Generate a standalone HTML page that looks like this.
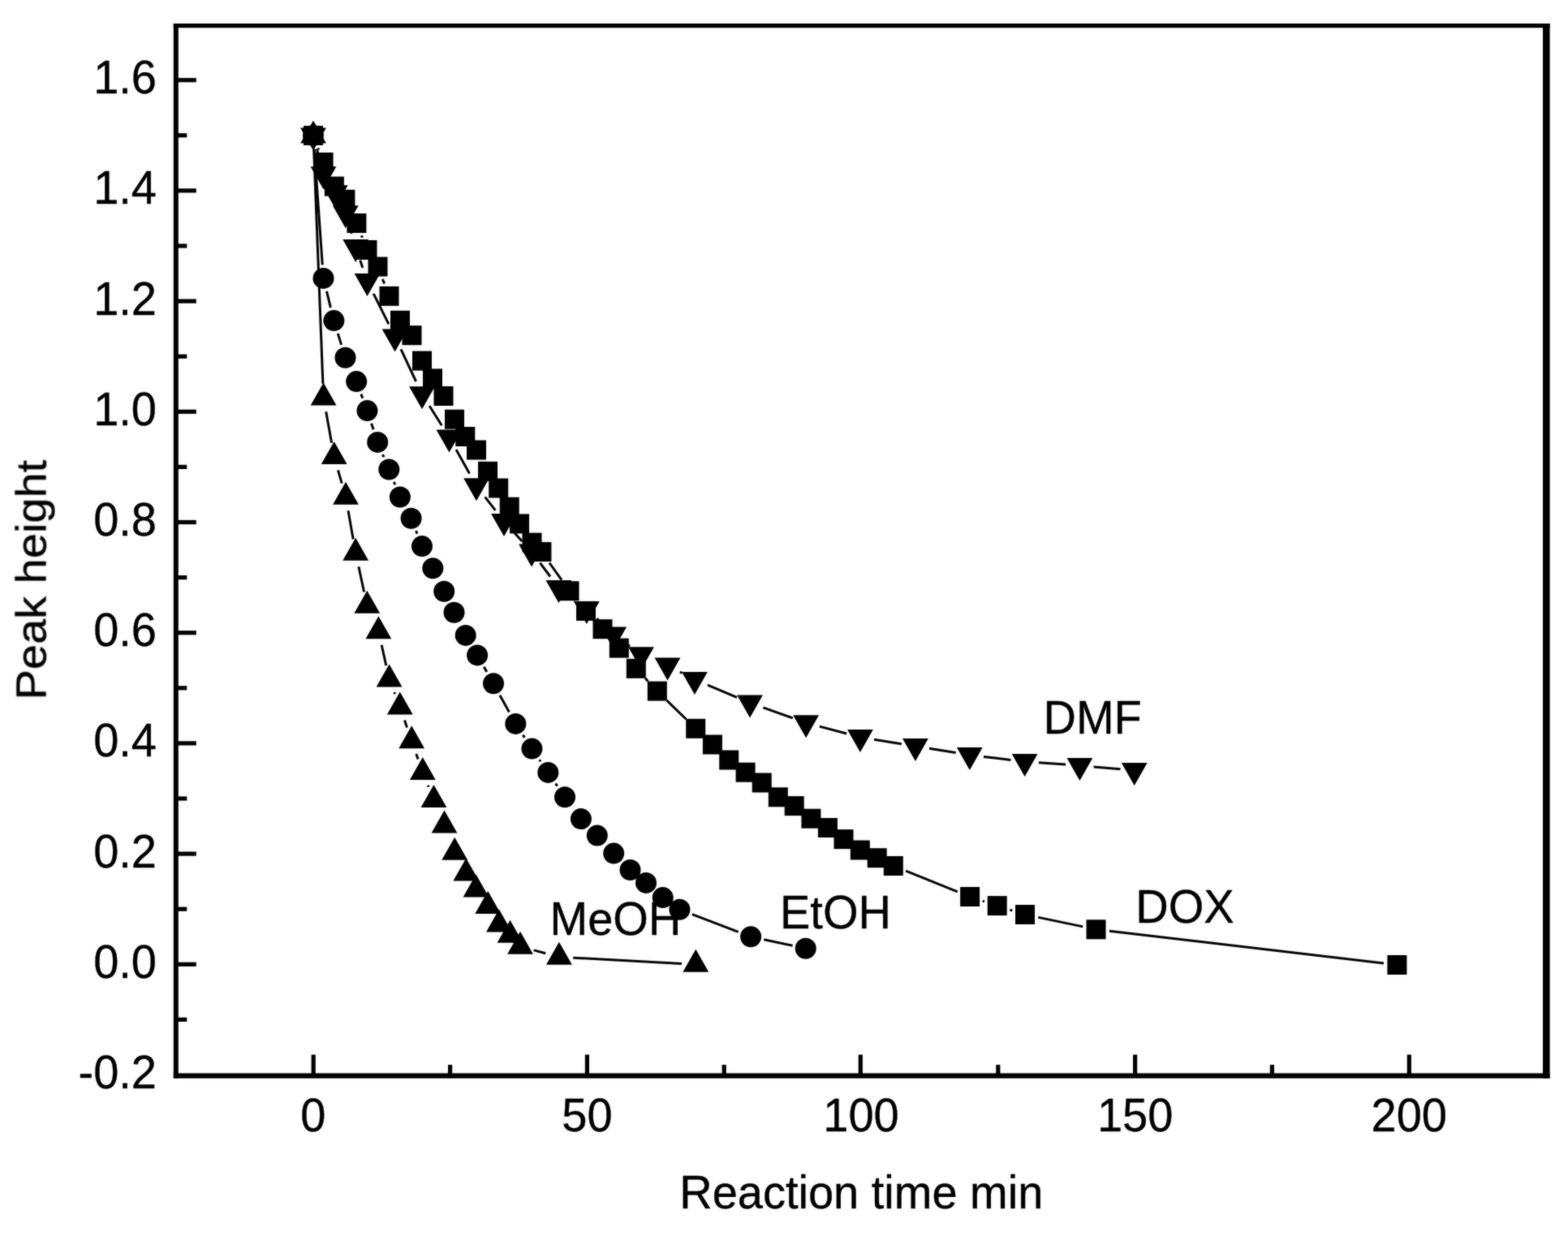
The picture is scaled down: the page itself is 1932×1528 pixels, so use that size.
<!DOCTYPE html>
<html lang="en"><head><meta charset="utf-8"><title>Peak height vs reaction time</title>
<style>html,body{margin:0;padding:0;background:#fff}body{width:1932px;height:1528px;overflow:hidden}svg{display:block}text{font-family:"Liberation Sans",Arial,Helvetica,sans-serif;fill:#000}</style>
</head><body>
<svg width="1932" height="1528" viewBox="0 0 1932 1528">
<rect width="1932" height="1528" fill="#fff"/>
<defs><filter id="soft" x="0" y="0" width="1932" height="1528" filterUnits="userSpaceOnUse"><feGaussianBlur stdDeviation="1" result="b"/><feComposite in="SourceGraphic" in2="b" operator="arithmetic" k1="0" k2="0.55" k3="0.45" k4="0"/></filter></defs>
<g filter="url(#soft)">
<g id="axes" stroke="#000" fill="none" stroke-linecap="butt">
<line x1="216.8" y1="29.0" x2="216.8" y2="1328.8" stroke-width="6.0"/>
<line x1="1905.3" y1="29.0" x2="1905.3" y2="1328.8" stroke-width="8.6"/>
<line x1="213.8" y1="31.7" x2="1909.6" y2="31.7" stroke-width="5.2"/>
<line x1="213.8" y1="1325.6" x2="1909.6" y2="1325.6" stroke-width="6.2"/>
<line x1="216.8" y1="1256.4" x2="230.3" y2="1256.4" stroke-width="5.2"/>
<line x1="216.8" y1="1188.3" x2="241.8" y2="1188.3" stroke-width="5.2"/>
<line x1="216.8" y1="1120.2" x2="230.3" y2="1120.2" stroke-width="5.2"/>
<line x1="216.8" y1="1052.1" x2="241.8" y2="1052.1" stroke-width="5.2"/>
<line x1="216.8" y1="984.0" x2="230.3" y2="984.0" stroke-width="5.2"/>
<line x1="216.8" y1="915.9" x2="241.8" y2="915.9" stroke-width="5.2"/>
<line x1="216.8" y1="847.8" x2="230.3" y2="847.8" stroke-width="5.2"/>
<line x1="216.8" y1="779.7" x2="241.8" y2="779.7" stroke-width="5.2"/>
<line x1="216.8" y1="711.6" x2="230.3" y2="711.6" stroke-width="5.2"/>
<line x1="216.8" y1="643.5" x2="241.8" y2="643.5" stroke-width="5.2"/>
<line x1="216.8" y1="575.4" x2="230.3" y2="575.4" stroke-width="5.2"/>
<line x1="216.8" y1="507.3" x2="241.8" y2="507.3" stroke-width="5.2"/>
<line x1="216.8" y1="439.2" x2="230.3" y2="439.2" stroke-width="5.2"/>
<line x1="216.8" y1="371.1" x2="241.8" y2="371.1" stroke-width="5.2"/>
<line x1="216.8" y1="303.0" x2="230.3" y2="303.0" stroke-width="5.2"/>
<line x1="216.8" y1="234.9" x2="241.8" y2="234.9" stroke-width="5.2"/>
<line x1="216.8" y1="166.8" x2="230.3" y2="166.8" stroke-width="5.2"/>
<line x1="216.8" y1="98.7" x2="241.8" y2="98.7" stroke-width="5.2"/>
<line x1="386.2" y1="1325.6" x2="386.2" y2="1299.6" stroke-width="5.2"/>
<line x1="554.6" y1="1325.6" x2="554.6" y2="1312.1" stroke-width="5.2"/>
<line x1="723.4" y1="1325.6" x2="723.4" y2="1299.6" stroke-width="5.2"/>
<line x1="892.2" y1="1325.6" x2="892.2" y2="1312.1" stroke-width="5.2"/>
<line x1="1060.3" y1="1325.6" x2="1060.3" y2="1299.6" stroke-width="5.2"/>
<line x1="1229.8" y1="1325.6" x2="1229.8" y2="1312.1" stroke-width="5.2"/>
<line x1="1398.6" y1="1325.6" x2="1398.6" y2="1299.6" stroke-width="5.2"/>
<line x1="1567.4" y1="1325.6" x2="1567.4" y2="1312.1" stroke-width="5.2"/>
<line x1="1736.3" y1="1325.6" x2="1736.3" y2="1299.6" stroke-width="5.2"/>
</g>
<g id="labels" font-size="56px" stroke="#000" stroke-width="0.4" stroke-linejoin="round">
<text transform="translate(193 1341.0) scale(1 1.035)" text-anchor="end">-0.2</text>
<text transform="translate(193 1204.8) scale(1 1.035)" text-anchor="end">0.0</text>
<text transform="translate(193 1068.6) scale(1 1.035)" text-anchor="end">0.2</text>
<text transform="translate(193 932.4) scale(1 1.035)" text-anchor="end">0.4</text>
<text transform="translate(193 796.2) scale(1 1.035)" text-anchor="end">0.6</text>
<text transform="translate(193 660.0) scale(1 1.035)" text-anchor="end">0.8</text>
<text transform="translate(193 523.8) scale(1 1.035)" text-anchor="end">1.0</text>
<text transform="translate(193 387.6) scale(1 1.035)" text-anchor="end">1.2</text>
<text transform="translate(193 251.4) scale(1 1.035)" text-anchor="end">1.4</text>
<text transform="translate(193 115.2) scale(1 1.035)" text-anchor="end">1.6</text>
<text transform="translate(385.8 1394) scale(1 1.035)" text-anchor="middle">0</text>
<text transform="translate(723.4 1394) scale(1 1.035)" text-anchor="middle">50</text>
<text transform="translate(1061.0 1394) scale(1 1.035)" text-anchor="middle">100</text>
<text transform="translate(1398.6 1394) scale(1 1.035)" text-anchor="middle">150</text>
<text transform="translate(1736.2 1394) scale(1 1.035)" text-anchor="middle">200</text>
<text transform="translate(1061.3 1489) scale(1 1.035)" text-anchor="middle">Reaction time min</text>
<text transform="translate(56.8 714.6) rotate(-90) scale(1 0.93)" text-anchor="middle">Peak height</text>
<text transform="translate(1285.5 903.5) scale(1 1.035)">DMF</text>
<text transform="translate(1399.3 1136.5) scale(1 1.035)">DOX</text>
<text transform="translate(961 1143.5) scale(1 1.035)">EtOH</text>
<text transform="translate(677.6 1152) scale(1 1.035)">MeOH</text>
</g>
<g id="lines" stroke="#000" stroke-width="3.0" fill="none" stroke-linecap="butt">
<path d="M391.9 182.4L392.7 184.6M445.5 290.3L446.4 292.7M471.4 344L473.6 349.5M676.9 693.5L692 714.7M795.1 835.9L798.5 839.5M821.6 863.1L845.4 886.3M1116.1 1073.2L1179.8 1098.8M1210.8 1110.2L1213 1110.9M1244.4 1121.1L1247.3 1122M1279.2 1130.4L1334.3 1141.9M1366.9 1147.2L1705 1187.1"/>
<path d="M390.4 183.7L394.1 198M430.7 279.3L433.3 287.7M443.8 320.7L446.9 329.9M460.2 361.8L478.9 399.3M494 430.4L512.6 470M529.2 500.3L544.3 524.3M562 554.1L578.5 583.5M597.6 612.3L610.4 628.8M632.7 655.3L643.3 667M665.4 693.6L678 710.5M702.2 734.7L709 739.9M735.4 762.2L743.6 769.9M770.1 792L776.1 796.4M837.8 828L840.6 829.4M871.9 844.2L908 859.3M940.3 871.8L976.8 884.8M1009.8 895.1L1043.2 904M1077 911.3L1110.8 916.7M1145 922.3L1177.7 927.5M1212 932.4L1245.4 936.4M1279.9 939.7L1313.1 942.1M1347.6 944.9L1380.5 947.8"/>
<path d="M387.2 183.5L397.3 326.4M402.5 358.9L407.4 379.1M416.3 410.9L420.6 424.9M444.9 485.6L446.8 490.6M457.6 521.8L460.1 529.2M471.6 560.1L472.9 563.3M485.4 593.8L486.8 597.2M512.6 654.1L514 657.7M596.3 821.7L599.8 827.9M615.9 856.7L627.4 877.4M644.3 905.7L646.4 908.8M664.7 936.2L666 938.3M684.6 965.5L686.7 968.6M852.8 1126.6L909.7 1148.4M941.2 1157.7L976.6 1165.3"/>
<path d="M386.7 184.3L397.9 472.9M401.7 507.2L408.6 545.7M416.5 579.3L421.2 595.7M429 629.3L435.2 664.4M441.9 698.3L448.6 729.5M470.2 794.8L475.8 820.1M485.8 853.1L486.6 855.1M498.5 887.5L501.5 896.5M512.9 929.1L515.1 935.4M527.3 967.7L528 969.7M657.7 1170.9L672.2 1174.8M706.2 1180.2L840 1187.5"/>
</g>
<g id="DOX" fill="#000">
<rect x="374" y="155" width="24" height="24"/><rect x="386.6" y="188" width="24" height="24"/><rect x="399.9" y="217.6" width="24" height="24"/><rect x="413.4" y="233.8" width="24" height="24"/><rect x="427.4" y="263" width="24" height="24"/><rect x="440.5" y="296" width="24" height="24"/><rect x="453.5" y="316.6" width="24" height="24"/><rect x="467.5" y="352.9" width="24" height="24"/><rect x="481" y="382.8" width="24" height="24"/><rect x="495.5" y="401.2" width="24" height="24"/><rect x="508" y="432.6" width="24" height="24"/><rect x="521" y="454.4" width="24" height="24"/><rect x="534.5" y="476" width="24" height="24"/><rect x="548" y="504.7" width="24" height="24"/><rect x="561.3" y="526" width="24" height="24"/><rect x="575" y="542.5" width="24" height="24"/><rect x="589" y="568.8" width="24" height="24"/><rect x="602.2" y="589.5" width="24" height="24"/><rect x="615.7" y="612.7" width="24" height="24"/><rect x="628" y="633.4" width="24" height="24"/><rect x="643.5" y="656.6" width="24" height="24"/><rect x="655.4" y="668" width="24" height="24"/><rect x="689.5" y="716.2" width="24" height="24"/><rect x="710" y="740.9" width="24" height="24"/><rect x="730.5" y="763.2" width="24" height="24"/><rect x="750.8" y="786.6" width="24" height="24"/><rect x="771.8" y="811.8" width="24" height="24"/><rect x="797.8" y="839.6" width="24" height="24"/><rect x="845.2" y="885.8" width="24" height="24"/><rect x="865.9" y="905.5" width="24" height="24"/><rect x="886.2" y="924.5" width="24" height="24"/><rect x="906.6" y="939.7" width="24" height="24"/><rect x="926.7" y="952.5" width="24" height="24"/><rect x="946.8" y="970.3" width="24" height="24"/><rect x="966.7" y="981.1" width="24" height="24"/><rect x="987.4" y="996.7" width="24" height="24"/><rect x="1007.9" y="1008" width="24" height="24"/><rect x="1027.5" y="1022.1" width="24" height="24"/><rect x="1047.8" y="1035.5" width="24" height="24"/><rect x="1068.7" y="1045.2" width="24" height="24"/><rect x="1088.8" y="1055" width="24" height="24"/><rect x="1183.1" y="1093" width="24" height="24"/><rect x="1216.7" y="1104.1" width="24" height="24"/><rect x="1251" y="1115" width="24" height="24"/><rect x="1338.5" y="1133.3" width="24" height="24"/><rect x="1709.4" y="1177" width="24" height="24"/>
</g>
<g id="DMF" fill="#000">
<path d="M370.1 157.6H401.9L386 185.6ZM382.6 205.3H414.4L398.5 233.3ZM396.8 228.3H428.6L412.7 256.3ZM409.9 253.3H441.7L425.8 281.3ZM422.3 294.9H454.1L438.2 322.9ZM436.6 336.9H468.4L452.5 364.9ZM470.7 405.4H502.5L486.6 433.4ZM504.1 476.2H535.9L520 504.2ZM537.6 529.6H569.4L553.5 557.6ZM571.1 589.2H602.9L587 617.2ZM605.1 633.1H636.9L621 661.1ZM639.1 670.4H670.9L655 698.4ZM672.5 714.9H704.3L688.4 742.9ZM706.9 740.9H738.7L722.8 768.9ZM740.3 772.4H772.1L756.2 800.4ZM774.1 797.2H805.9L790 825.2ZM806.6 810.5H838.4L822.5 838.5ZM840 828.1H871.8L855.9 856.1ZM908.1 856.6H939.9L924 884.6ZM977.2 881.2H1009L993.1 909.2ZM1044 899.1H1075.8L1059.9 927.1ZM1112 910.1H1143.8L1127.9 938.1ZM1178.9 920.9H1210.7L1194.8 948.9ZM1246.7 929.1H1278.5L1262.6 957.1ZM1314.5 933.9H1346.3L1330.4 961.9ZM1381.8 940H1413.6L1397.7 968Z"/>
</g>
<g id="EtOH" fill="#000">
<circle cx="386" cy="167" r="13.0"/><circle cx="398.5" cy="342.9" r="13.0"/><circle cx="411.4" cy="395.1" r="13.0"/><circle cx="425.5" cy="440.7" r="13.0"/><circle cx="439.2" cy="470.1" r="13.0"/><circle cx="452.5" cy="506.1" r="13.0"/><circle cx="465.2" cy="544.9" r="13.0"/><circle cx="479.3" cy="578.5" r="13.0"/><circle cx="492.9" cy="612.5" r="13.0"/><circle cx="506.6" cy="638.7" r="13.0"/><circle cx="520" cy="673.1" r="13.0"/><circle cx="533.3" cy="700.3" r="13.0"/><circle cx="547.2" cy="728.8" r="13.0"/><circle cx="559.5" cy="754.7" r="13.0"/><circle cx="573.7" cy="782.9" r="13.0"/><circle cx="588.1" cy="807.4" r="13.0"/><circle cx="608" cy="842.2" r="13.0"/><circle cx="635.3" cy="891.9" r="13.0"/><circle cx="655.4" cy="922.6" r="13.0"/><circle cx="675.3" cy="951.9" r="13.0"/><circle cx="696" cy="982.2" r="13.0"/><circle cx="715.9" cy="1009.1" r="13.0"/><circle cx="735.8" cy="1029.6" r="13.0"/><circle cx="756.2" cy="1051.6" r="13.0"/><circle cx="776.5" cy="1072" r="13.0"/><circle cx="796" cy="1087.9" r="13.0"/><circle cx="816.7" cy="1106.1" r="13.0"/><circle cx="837.4" cy="1120.7" r="13.0"/><circle cx="925.1" cy="1154.3" r="13.0"/><circle cx="992.7" cy="1168.7" r="13.0"/>
</g>
<g id="MeOH" fill="#000">
<path d="M370.1 176.4H401.9L386 148.4ZM382.7 499.6H414.5L398.6 471.6ZM395.8 572.1H427.6L411.7 544.1ZM410.1 621.7H441.9L426 593.7ZM422.3 690.8H454.1L438.2 662.8ZM436.4 755.8H468.2L452.3 727.8ZM450.5 787.3H482.3L466.4 759.3ZM463.7 846.4H495.5L479.6 818.4ZM476.9 880.6H508.7L492.8 852.6ZM491.3 922.2H523.1L507.2 894.2ZM504.9 961.1H536.7L520.8 933.1ZM518.6 995.1H550.4L534.5 967.1ZM531.6 1026.6H563.4L547.5 998.6ZM544.3 1059.7H576.1L560.2 1031.7ZM558.4 1085.4H590.2L574.3 1057.4ZM570.6 1105.6H602.4L586.5 1077.6ZM585.3 1126.1H617.1L601.2 1098.1ZM599 1148.5H630.8L614.9 1120.5ZM612.6 1161.7H644.4L628.5 1133.7ZM625.1 1175.8H656.9L641 1147.8ZM673 1188.7H704.8L688.9 1160.7ZM841.4 1197.8H873.2L857.3 1169.8Z"/>
</g>
</g>
</svg></body></html>
